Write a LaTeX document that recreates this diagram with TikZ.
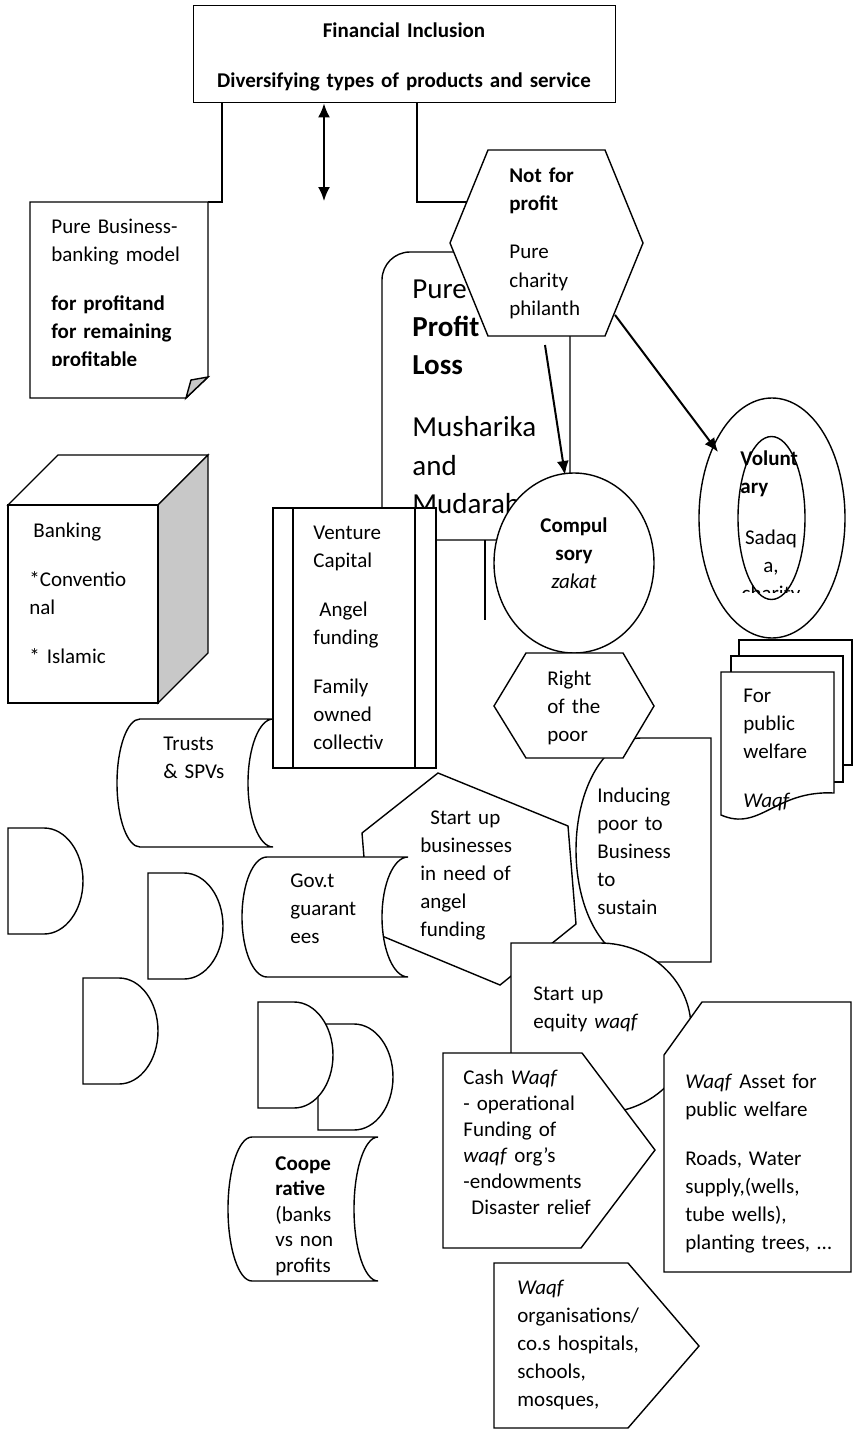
\documentclass[tikz,border=0pt]{standalone}
\usepackage{fontspec}
\setmainfont{Carlito}
\usepackage{xcolor}
\usepackage{tikz}
\usetikzlibrary{arrows.meta}
\tikzset{>={Latex[length=7pt,width=6pt]}}
\definecolor{foldgray}{RGB}{200,200,200}
\tikzset{
  shp/.style={draw, fill=white, line width=0.7pt},
  txt/.style={anchor=base west, inner sep=0pt, align=left, text width=90pt,
    font=\fontsize{10.5}{14}\selectfont},
  txtc/.style={anchor=base, inner sep=0pt, align=center, text width=90pt,
    font=\fontsize{10.5}{14}\selectfont},
  bigtxt/.style={txt, font=\fontsize{14.5}{19.2}\selectfont}
}

\begin{document}
\begin{tikzpicture}[x=0.5pt, y=-0.5pt]
\useasboundingbox (0,0) rectangle (853,1429);
% top box
\node[draw, line width=0.7pt, anchor=north west, inner sep=0pt, minimum width=211pt, minimum height=48.5pt] (incl) at (193,5) {};
\node[txtc, text width=220pt] (incltxt) at (404,38) {\textbf{Financial Inclusion}\\[11pt]\textbf{Diversifying types of products and service}};
\coordinate (pbne) at (208,202);
\coordinate (nfpw) at (467,202);
\coordinate (dbl) at (324,201);
\draw[line width=0.7pt] (incl.south west) ++(29,0) |- (pbne);
\draw[line width=0.7pt] (incl.south west) ++(224,0) |- (nfpw);
\draw[<->, line width=1pt] (incl.south -| dbl) -- (dbl);

% pure business note
\draw[shp] (30,202) -- (pbne) -- (208,377) -- (186,398) -- (30,398) -- cycle;
\draw[line width=0.7pt, fill=foldgray] (186,398) -- (191,380) -- (208,377) -- cycle;
\begin{scope}
  \clip (30,202) rectangle (208,365);
  \node[txt] (pbtxt) at (51,233) {Pure Business-\\banking model\\[10.5pt]\textbf{for profitand}\\\textbf{for remaining}\\\textbf{profitable}};
\end{scope}

% profit and loss
\draw[shp, rounded corners=14pt] (382,252) rectangle (570,540);
\node[bigtxt] (plstxt) at (412,298) {Pure\\\textbf{Profit}\\\textbf{Loss}\\[11.75pt]Musharika\\and\\Mudarabah};
\draw[line width=0.7pt] (485,540) -- (485,620);

% zakat
\draw[shp] (574,563) ellipse [x radius=80, y radius=90];
\node[txtc] (zktxt) at (574,532) {\textbf{Compul}\\\textbf{sory}\\\textit{zakat}};

% not for profit
\draw[shp] (488,150) -- (605,150) -- (643,243) -- (605,336) -- (488,336) -- (450,243) -- cycle;
\node[txt] (nfptxt) at (509,182) {\textbf{Not for}\\\textbf{profit}\\[10.5pt]Pure\\charity\\philanth};

% voluntary
\draw[shp] (772,518) ellipse [x radius=73, y radius=120];
\draw[shp] (771.5,518) ellipse [x radius=33.5, y radius=81.5];
\node[txt] (voltxt) at (740,465) {\textbf{Volunt}\\\textbf{ary}};
\begin{scope}
  \clip (700,520) rectangle (840,592);
  \node[txtc] (sadtxt) at (771,544) {Sadaq\\a,\\charity};
\end{scope}

\coordinate (a1s) at (545,345);
\coordinate (a1e) at (565,475);
\coordinate (a2s) at (615,315);
\coordinate (a2e) at (718,452);
\draw[->, line width=1pt] (a1s) -- (a1e);
\draw[->, line width=1pt] (a2s) -- (a2e);

% public welfare documents
\draw[shp] (739,640) rectangle (852,765);
\draw[shp] (731,656) rectangle (843,782);
\draw[shp] (721,672) -- (834,672) -- (834,793) .. controls (775,790) and (760,832) .. (721,815) -- cycle;
\node[txt] (pubtxt) at (743,702) {For\\public\\welfare\\[10.5pt]\textit{Waqf}};

% banking cube
\draw[shp] (8,505) -- (58,455) -- (208,455) -- (158,505) -- cycle;
\draw[shp, fill=foldgray] (158,505) -- (208,455) -- (208,653) -- (158,703) -- cycle;
\draw[shp] (8,505) rectangle (158,703);
\node[txt] (banktxt) at (29,537) {\hspace{2pt}Banking\\[10.5pt]*Conventio\\nal\\[10.5pt]* Islamic};

% trusts
\draw[shp] (140,719) -- (273,719) arc[start angle=-90, end angle=-270, x radius=25, y radius=64] -- (140,847) arc[start angle=90, end angle=270, x radius=23, y radius=64] -- cycle;
\node[txt] (trtxt) at (163,750) {Trusts\\\& SPVs};

% venture capital
\draw[shp] (273,508) rectangle (436,768);
\draw[line width=0.7pt] (293,508) -- (293,768) (415,508) -- (415,768);
\node[txt] (vctxt) at (313,539) {Venture\\Capital\\[10.5pt]\hspace{3pt}Angel\\funding\\[10.5pt]Family\\owned\\collectiv};

% start up businesses
\draw[shp] (438,773) -- (568,826) -- (576,924) -- (500,985) -- (370,931) -- (362,833) -- cycle;
\node[txt] (sbtxt) at (420,824) {\hspace{5pt}Start up\\businesses\\in need of\\angel\\funding};

% government guarantees
\draw[shp] (267,857) -- (408,857) arc[start angle=-90, end angle=-270, x radius=26, y radius=60] -- (267,977) arc[start angle=90, end angle=270, x radius=25, y radius=60] -- cycle;
\node[txt] (govtxt) at (290,887) {Gov.t\\guarant\\ees};

% inducing poor
\draw[shp] (711,738) -- (641,738) arc[start angle=-90, end angle=-270, x radius=65, y radius=112] -- (711,962) -- cycle;
\node[txt] (indtxt) at (597,802) {Inducing\\poor to\\Business\\to\\sustain};

% right of the poor
\draw[shp] (526,653) -- (623,653) -- (654,706) -- (623,758) -- (526,758) -- (494,706) -- cycle;
\node[txt] (rptxt) at (547,685) {Right\\of the\\poor};

% waqf shapes
\draw[shp] (511,943) -- (600,943) arc[start angle=-90, end angle=90, x radius=91, y radius=85] -- (511,1113) -- cycle;
\node[txt] (eqtxt) at (533,1000) {Start up\\equity \textit{waqf}};
\draw[shp] (443,1053) -- (582,1053) -- (655,1150) -- (581,1248) -- (443,1248) -- cycle;
\node[txt, font=\fontsize{10.5}{13}\selectfont] (cashtxt) at (463,1084) {Cash \textit{Waqf}\\- operational\\Funding of\\\textit{waqf} org’s\\-endowments\\\hspace{4pt}Disaster relief};
\draw[shp] (702,1002) -- (851,1002) -- (851,1272) -- (664,1272) -- (664,1055) -- cycle;
\node[txt] (asstxt) at (685,1088) {\textit{Waqf} Asset for\\public welfare\\[10.5pt]Roads, Water\\supply,(wells,\\tube wells),\\planting trees, …};
\draw[shp] (494,1263) -- (628,1263) -- (699,1346) -- (628,1428) -- (494,1428) -- cycle;
\node[txt] (orgtxt) at (517,1294) {\textit{Waqf}\\organisations/\\co.s hospitals,\\schools,\\mosques,};

% empty delay shapes
\draw[shp] (8,828) -- (44,828) arc[start angle=-90, end angle=90, x radius=39, y radius=53] -- (8,934) -- cycle;
\draw[shp] (148,873) -- (184,873) arc[start angle=-90, end angle=90, x radius=39, y radius=53] -- (148,979) -- cycle;
\draw[shp] (83,978) -- (119,978) arc[start angle=-90, end angle=90, x radius=39, y radius=53] -- (83,1084) -- cycle;
\draw[shp] (318,1024) -- (354,1024) arc[start angle=-90, end angle=90, x radius=39, y radius=53] -- (318,1130) -- cycle;
\draw[shp] (258,1002) -- (294,1002) arc[start angle=-90, end angle=90, x radius=39, y radius=53] -- (258,1108) -- cycle;

% cooperative
\draw[shp] (252,1137) -- (378,1137) arc[start angle=-90, end angle=-270, x radius=24, y radius=72] -- (252,1281) arc[start angle=90, end angle=270, x radius=24, y radius=72] -- cycle;
\node[txt, font=\fontsize{10.5}{12.75}\selectfont] (cooptxt) at (275,1170) {\textbf{Coope}\\\textbf{rative}\\(banks\\vs non\\profits};
\end{tikzpicture}
\end{document}
